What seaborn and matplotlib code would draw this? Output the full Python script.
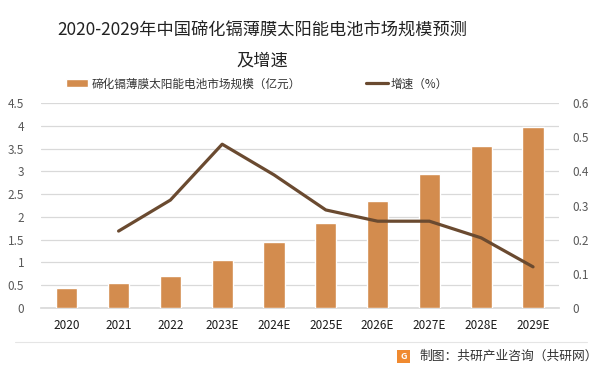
import matplotlib
matplotlib.use("Agg")
import matplotlib.pyplot as plt
import seaborn as sns
import pandas as pd
import numpy as np
from matplotlib.patches import Rectangle

years = ["2020", "2021", "2022", "2023E", "2024E", "2025E", "2026E", "2027E", "2028E", "2029E"]
market_size = [0.43, 0.54, 0.70, 1.05, 1.45, 1.87, 2.35, 2.94, 3.56, 3.98]
growth = [np.nan, 0.225, 0.316, 0.48, 0.39, 0.287, 0.254, 0.254, 0.205, 0.12]

bar_label = "碲化镉薄膜太阳能电池市场规模（亿元）"
line_label = "增速（%）"
title = "2020-2029年中国碲化镉薄膜太阳能电池市场规模预测\n及增速"
source = "制图：共研产业咨询（共研网）"

sns.set_theme(style="white")
plt.rcParams['font.family'] = ['Noto Sans CJK SC', 'DejaVu Sans']

df = pd.DataFrame({"year": years, "size": market_size, "growth": growth})

fig = plt.figure(figsize=(6.01, 3.73), dpi=100)
ax = fig.add_axes([0.068, 0.175, 0.862, 0.548])

ax.set_facecolor("none")
sns.barplot(data=df, x="year", y="size", color="#D38C4E", width=0.41, ax=ax,
            saturation=1, label=bar_label, zorder=3)
ax.set_ylim(0, 4.5)
ax.set_yticks(np.arange(0, 4.51, 0.5))
ax.set_yticklabels(["0", "0.5", "1", "1.5", "2", "2.5", "3", "3.5", "4", "4.5"])
ax.yaxis.grid(True, color="#d9d9d9", linewidth=0.9, zorder=0)
ax.set_axisbelow(True)
ax.set_xlabel("")
ax.set_ylabel("")
for s in ["top", "right", "left"]:
    ax.spines[s].set_visible(False)
ax.spines["bottom"].set_color("#d9d9d9")
ax.tick_params(axis="y", length=0, labelsize=8.5, labelcolor="#595959", pad=12)
ax.tick_params(axis="x", length=0, labelsize=8.5, labelcolor="#1a1a1a", pad=8)
ax.set_xlim(-0.5, 9.5)

ax2 = ax.twinx()
sns.lineplot(x=np.arange(len(years)), y=df["growth"], color="#6A4A30", linewidth=2.3,
             ax=ax2, label=line_label, zorder=4)
ax2.set_ylim(0, 0.6)
ax2.set_yticks(np.arange(0, 0.61, 0.1))
ax2.set_yticklabels(["0", "0.1", "0.2", "0.3", "0.4", "0.5", "0.6"])
ax2.set_ylabel("")
for s in ["top", "right", "left", "bottom"]:
    ax2.spines[s].set_visible(False)
ax2.tick_params(axis="y", length=0, labelsize=8.5, labelcolor="#595959", pad=10)
if ax2.legend_:
    ax2.legend_.remove()
if ax.legend_:
    ax.legend_.remove()

h1, l1 = ax.get_legend_handles_labels()
h2, l2 = ax2.get_legend_handles_labels()
fig.legend(h1 + h2, l1 + l2, loc="center", bbox_to_anchor=(0.428, 0.775), ncol=2,
           frameon=False, fontsize=8.4, handlelength=1.9, handleheight=0.7,
           columnspacing=5.6, handletextpad=0.25, labelcolor="#333333")

fig.text(0.436, 0.877, title, ha="center", va="center", fontsize=12.4,
         color="#222222", linespacing=1.85)

# bottom source
fig.add_artist(plt.Line2D([0.025, 0.977], [0.083, 0.083], color="#e5e5e5", linewidth=0.8,
                          transform=fig.transFigure))
fig.patches.append(Rectangle((0.661, 0.028), 0.021, 0.034, transform=fig.transFigure,
                             facecolor="#F08A30", edgecolor="none"))
fig.text(0.6715, 0.0445, "G", ha="center", va="center", fontsize=6.5, color="white",
         fontweight="bold")
fig.text(0.698, 0.046, source, ha="left", va="center", fontsize=9.2, color="#333333")

fig.savefig("out.png", dpi=100)
